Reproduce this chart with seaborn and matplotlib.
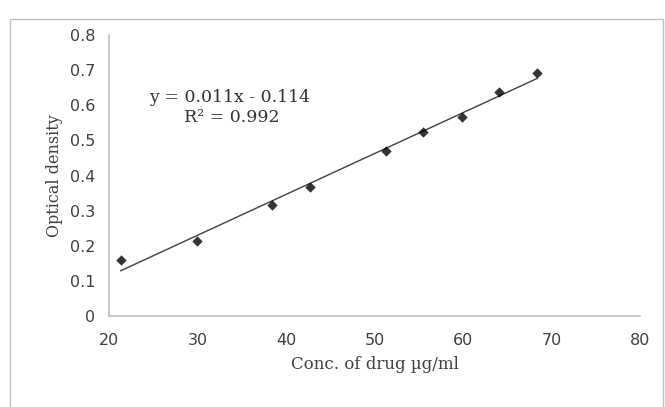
import matplotlib
matplotlib.use("Agg")
import matplotlib.pyplot as plt
import seaborn as sns
import numpy as np
import pandas as pd
from matplotlib.patches import Rectangle

conc = [21.3, 29.9, 38.4, 42.7, 51.3, 55.5, 59.9, 64.1, 68.4]
od = [0.159, 0.214, 0.315, 0.366, 0.469, 0.525, 0.567, 0.639, 0.693]
x_ticks = [20, 30, 40, 50, 60, 70, 80]
y_ticks = [0, 0.1, 0.2, 0.3, 0.4, 0.5, 0.6, 0.7, 0.8]
y_tick_labels = ["0", "0.1", "0.2", "0.3", "0.4", "0.5", "0.6", "0.7", "0.8"]

df = pd.DataFrame({"conc": conc, "od": od})

sns.set_style("white")
plt.rcParams["font.family"] = ["DejaVu Sans"]

fig = plt.figure(figsize=(6.65, 4.07), dpi=100)
fig.patches.append(Rectangle((10 / 665, -0.05), 653 / 665, 1 - 19 / 407 + 0.05,
                             transform=fig.transFigure, fill=False,
                             edgecolor="#bfbfbf", linewidth=1.0, zorder=0))
ax = fig.add_axes([109 / 665, 1 - 316 / 407, 531 / 665, 281 / 407])

sns.regplot(data=df, x="conc", y="od", ax=ax, ci=None, truncate=True, marker="D",
            scatter_kws=dict(s=28, color="black", zorder=3, linewidths=0),
            line_kws=dict(color="#404040", linewidth=1.0))

ax.set_xlim(20, 80)
ax.set_ylim(0, 0.8)
ax.set_xticks(x_ticks)
ax.set_yticks(y_ticks)
ax.set_yticklabels(y_tick_labels)
ax.tick_params(axis="both", length=0, labelsize=11.5, labelcolor="#404040")
ax.tick_params(axis="x", pad=12)
ax.tick_params(axis="y", pad=10)

for s in ["top", "right"]:
    ax.spines[s].set_visible(False)
for s in ["left", "bottom"]:
    ax.spines[s].set_color("#bfbfbf")
    ax.spines[s].set_linewidth(1.2)

ax.set_xlabel("Conc. of drug µg/ml", family=["DejaVu Serif"], fontsize=12,
              color="#404040", labelpad=6)
ax.set_ylabel("Optical density", family=["DejaVu Serif"], fontsize=11.5,
              color="#404040", labelpad=5)

fig.text(230 / 665, 1 - 97 / 407, "y = 0.011x - 0.114", family=["DejaVu Serif"],
         ha="center", va="center", fontsize=12.5, color="#333333")
fig.text(232 / 665, 1 - 117 / 407, "R² = 0.992", family=["DejaVu Serif"],
         ha="center", va="center", fontsize=12.5, color="#333333")

fig.savefig("out.png", dpi=100)
